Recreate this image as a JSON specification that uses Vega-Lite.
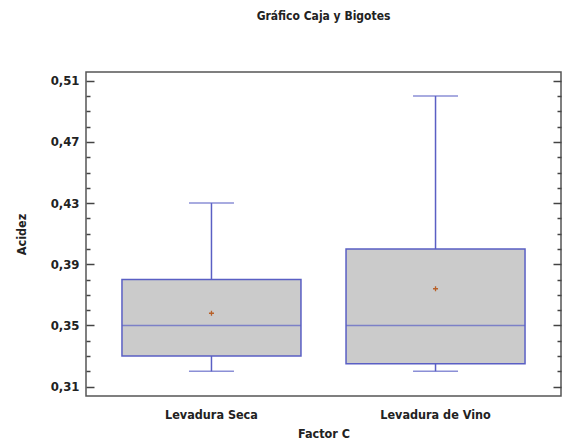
{
  "$schema": "https://vega.github.io/schema/vega-lite/v6.json",
  "width": 475,
  "height": 324,
  "autosize": {"type": "none"},
  "padding": {"left": 86, "top": 72, "right": 5, "bottom": 49},
  "title": {
    "text": "Gráfico Caja y Bigotes",
    "anchor": "middle",
    "frame": "group",
    "offset": 49,
    "fontSize": 12,
    "fontWeight": "bold",
    "color": "#222222"
  },
  "config": {
    "font": "DejaVu Sans Condensed",
    "view": {"stroke": "#555555", "strokeWidth": 1.5},
    "axis": {"labelColor": "#222222", "titleColor": "#222222", "tickColor": "#444444", "tickWidth": 1.5, "domain": false, "grid": false}
  },
  "data": {
    "values": [
      {"grupo": "Levadura Seca", "min": 0.32, "q1": 0.33, "mediana": 0.35, "q3": 0.38, "max": 0.43, "media": 0.358},
      {"grupo": "Levadura de Vino", "min": 0.32, "q1": 0.325, "mediana": 0.35, "q3": 0.40, "max": 0.50, "media": 0.374}
    ]
  },
  "encoding": {
    "x": {
      "field": "grupo",
      "type": "nominal",
      "sort": null,
      "scale": {"paddingInner": 0.2, "paddingOuter": 0.16},
      "axis": {
        "title": "Factor C",
        "labelAngle": 0,
        "ticks": false,
        "labelFontSize": 12.5,
        "labelFontWeight": "bold",
        "labelPadding": 12,
        "titleFontSize": 12.5,
        "titleFontWeight": "bold",
        "titlePadding": 7
      }
    }
  },
  "layer": [
    {
      "layer": [
        {
          "mark": {"type": "rule", "color": "#5a5fc4", "strokeWidth": 1.5},
          "encoding": {
            "y": {
              "field": "min",
              "type": "quantitative",
              "scale": {"domain": [0.3039, 0.5157], "nice": false, "zero": false},
              "axis": {
                "orient": "left",
                "title": "Acidez",
                "values": [0.31, 0.35, 0.39, 0.43, 0.47, 0.51],
                "labelExpr": "replace(format(datum.value, '.2f'), '.', ',')",
                "tickSize": -8,
                "labelFontSize": 13,
                "labelFontWeight": "bold",
                "labelPadding": 15,
                "labelBound": false,
                "titleFontSize": 12.5,
                "titleFontWeight": "bold",
                "titlePadding": 22
              }
            },
            "y2": {"field": "max"}
          }
        },
        {
          "mark": {"type": "bar", "size": 179, "fill": "#cbcbcb", "stroke": "#5a5fc4", "strokeWidth": 1.5},
          "encoding": {
            "y": {"field": "q1", "type": "quantitative"},
            "y2": {"field": "q3"}
          }
        },
        {
          "mark": {"type": "tick", "size": 179, "color": "#5a5fc4", "thickness": 1.5},
          "encoding": {"y": {"field": "mediana", "type": "quantitative"}}
        },
        {
          "mark": {"type": "tick", "size": 45, "color": "#5a5fc4", "thickness": 1.5},
          "encoding": {"y": {"field": "min", "type": "quantitative"}}
        },
        {
          "mark": {"type": "tick", "size": 45, "color": "#5a5fc4", "thickness": 1.5},
          "encoding": {"y": {"field": "max", "type": "quantitative"}}
        }
      ]
    },
    {
      "mark": {"type": "point", "shape": "M-1,0H1M0,-1V1", "size": 25, "filled": false, "color": "#b86028", "strokeWidth": 1.3, "opacity": 1},
      "encoding": {
        "y": {
          "field": "media",
          "type": "quantitative",
          "scale": {"domain": [0.3039, 0.5157], "nice": false, "zero": false},
          "axis": {
            "orient": "right",
            "title": null,
            "values": [0.31, 0.35, 0.39, 0.43, 0.47, 0.51],
            "labels": false,
            "tickSize": -8
          }
        }
      }
    },
    {
      "mark": {"type": "point", "opacity": 0},
      "encoding": {
        "y": {
          "field": "media",
          "type": "quantitative",
          "scale": {"domain": [0.3039, 0.5157], "nice": false, "zero": false},
          "axis": {
            "orient": "left",
            "title": null,
            "values": [0.32, 0.33, 0.34, 0.36, 0.37, 0.38, 0.40, 0.41, 0.42, 0.44, 0.45, 0.46, 0.48, 0.49, 0.50],
            "labels": false,
            "tickSize": -4
          }
        }
      }
    },
    {
      "mark": {"type": "point", "opacity": 0},
      "encoding": {
        "y": {
          "field": "media",
          "type": "quantitative",
          "scale": {"domain": [0.3039, 0.5157], "nice": false, "zero": false},
          "axis": {
            "orient": "right",
            "title": null,
            "values": [0.32, 0.33, 0.34, 0.36, 0.37, 0.38, 0.40, 0.41, 0.42, 0.44, 0.45, 0.46, 0.48, 0.49, 0.50],
            "labels": false,
            "tickSize": -4
          }
        }
      }
    }
  ],
  "resolve": {"scale": {"y": "independent"}, "axis": {"y": "independent"}}
}
